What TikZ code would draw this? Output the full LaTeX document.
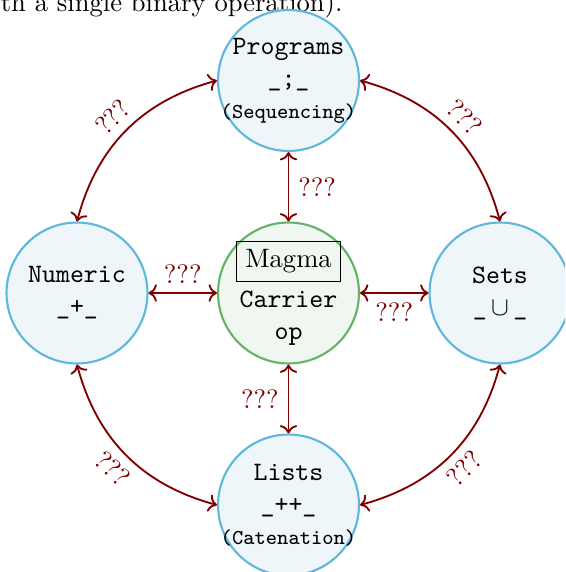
\documentclass[tikz,border=0pt]{standalone}
\usetikzlibrary{arrows.meta}
\definecolor{cblue}{RGB}{93,184,220}
\definecolor{cbluefill}{RGB}{239,246,250}
\definecolor{cgreen}{RGB}{102,178,102}
\definecolor{cgreenfill}{RGB}{240,247,240}
\definecolor{cred}{RGB}{128,0,0}
\tikzset{
  alg/.style={circle, draw=cblue, fill=cbluefill, line width=0.8pt, minimum size=53pt, inner sep=0pt},
  magmac/.style={circle, draw=cgreen, fill=cgreenfill, line width=0.8pt, minimum size=53pt, inner sep=0pt},
  txt/.style={align=center, inner sep=0pt},
  rel/.style={<->, draw=cred, line width=0.7pt},
  qlab/.style={text=cred, font=\normalsize}
}
\begin{document}
\begin{tikzpicture}[x=0.376pt, y=-0.376pt]
\useasboundingbox (0,0) rectangle (565,572);
\clip (0,0) rectangle (565,572);
\node[anchor=base east, inner sep=0pt] (top) at (343,12) {with a single binary operation).};
\node[alg] (prog) at (288.5,80.5) {};
\node[magmac] (mag) at (288.5,293) {};
\node[alg] (num) at (77,293) {};
\node[alg] (sets) at (500,293) {};
\node[alg] (lists) at (288.5,505) {};
\node[txt] (progT) at (prog) {\texttt{Programs}\\\texttt{\_;\_}\\\footnotesize\texttt{(Sequencing)}};
\node[txt] (magT) at (mag) {\fbox{Magma}\\[3pt]\texttt{Carrier}\\\texttt{op}};
\node[txt] (numT) at (num) {\texttt{Numeric}\\\texttt{\_+\_}};
\node[txt] (setsT) at (sets) {\texttt{Sets}\\\texttt{\_}\,$\cup$\,\texttt{\_}};
\node[txt] (listsT) at (lists) {\texttt{Lists}\\\texttt{\_++\_}\\\footnotesize\texttt{(Catenation)}};
\draw[rel] (prog.south) -- node[qlab, right] (l1) {???} (mag.north);
\draw[rel] (num.east) -- node[qlab, above] (l2) {???} (mag.west);
\draw[rel] (mag.east) -- node[qlab, below] (l3) {???} (sets.west);
\draw[rel] (mag.south) -- node[qlab, left] (l4) {???} (lists.north);
\draw[rel] (prog.west) to[bend right=30] node[qlab, sloped, above] (l5) {???} (num.north);
\draw[rel] (prog.east) to[bend left=30] node[qlab, sloped, above] (l6) {???} (sets.north);
\draw[rel] (num.south) to[bend right=30] node[qlab, sloped, below] (l7) {???} (lists.west);
\draw[rel] (sets.south) to[bend left=30] node[qlab, sloped, below] (l8) {???} (lists.east);
\end{tikzpicture}
\end{document}
